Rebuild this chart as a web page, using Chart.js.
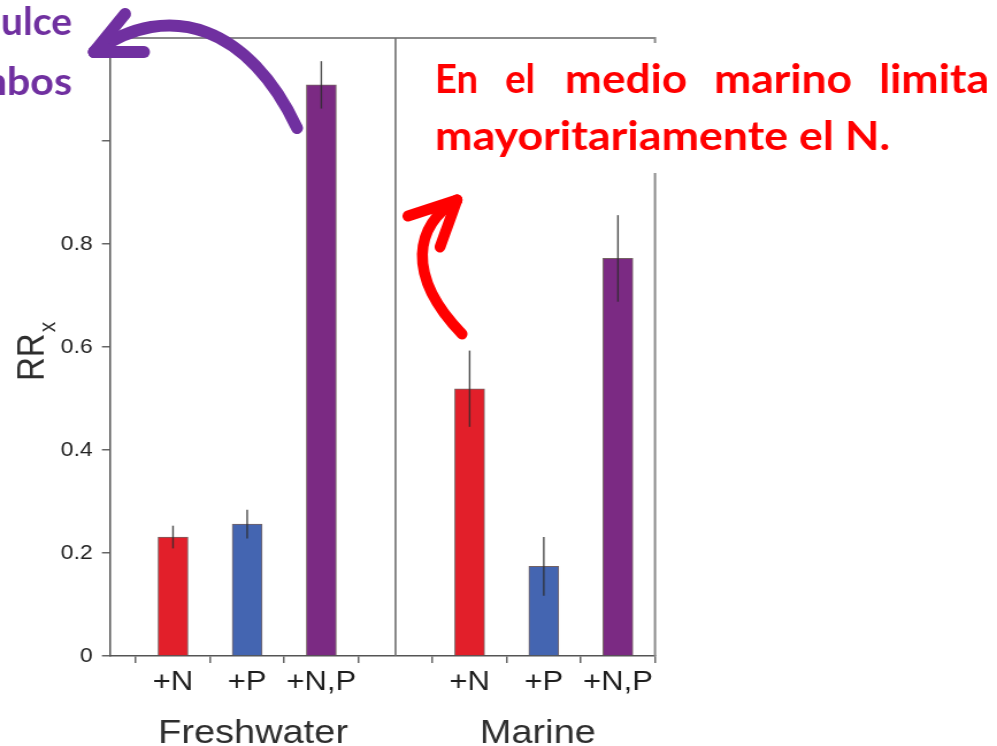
<!DOCTYPE html>
<html lang="es">
<head>
<meta charset="utf-8">
<title>RRx por nutriente: Freshwater y Marine</title>
<script src="https://cdn.jsdelivr.net/npm/chart.js@4.4.1/dist/chart.umd.min.js"></script>
<style>
  html, body { margin: 0; padding: 0; background: #fff; overflow: hidden; }
  #wrap { width: 867px; height: 746px; transform: scaleX(1.14994); transform-origin: 0 0; }
  canvas { display: block; }
</style>
</head>
<body>
<div id="wrap"><canvas id="chart" width="867" height="746"></canvas></div>
<script>
// ---- data ----
const treatments = ['+N', '+P', '+N,P'];
const systems = ['Freshwater', 'Marine'];
const freshwaterRR = [0.231, 0.256, 1.109];
const freshwaterErr = [0.022, 0.028, 0.046];
const marineRR = [0.519, 0.174, 0.772];
const marineErr = [0.074, 0.057, 0.084];
const yTickLabels = ['0', '0.2', '0.4', '0.6', '0.8'];
const treatmentColors = ['#e21f2a', '#4465b1', '#7b2a83'];

// horizontal stretch applied to the canvas wrapper
const SX = 997 / 867;

// each system occupies three slots, one empty slot between them
const slotsPerSystem = treatments.length + 1;
const barPoints = [];
[[freshwaterRR, freshwaterErr], [marineRR, marineErr]].forEach(([vals, errs], g) => {
  vals.forEach((v, i) => barPoints.push({ x: g * slotsPerSystem + i, y: v, e: errs[i], c: treatmentColors[i] }));
});
const lastSlot = slotsPerSystem * systems.length - 2;
const xTickValues = [];
for (let v = -0.5; v <= lastSlot + 0.5 + 1e-9; v += 0.5) xTickValues.push(v);

function slotLabel(v) {
  if (!Number.isInteger(v)) return '';
  const g = Math.floor(v / slotsPerSystem), i = v - g * slotsPerSystem;
  return i < treatments.length ? treatments[i] : '';
}

// error bars, frame, divider and axis titles
const decorations = {
  id: 'decorations',
  afterDatasetsDraw(chart) {
    const { ctx, scales: { x, y } } = chart;
    ctx.save();
    ctx.strokeStyle = 'rgba(45,45,45,0.85)';
    ctx.lineWidth = 1.4;
    barPoints.forEach(p => {
      const px = x.getPixelForValue(p.x);
      ctx.beginPath();
      ctx.moveTo(px, y.getPixelForValue(p.y + p.e));
      ctx.lineTo(px, y.getPixelForValue(p.y - p.e));
      ctx.stroke();
    });
    ctx.restore();
  },
  afterDraw(chart) {
    const { ctx, chartArea: a, scales: { x, y } } = chart;
    ctx.save();
    // top frame and right border
    ctx.strokeStyle = '#8a8a8a';
    ctx.lineWidth = 2;
    ctx.beginPath();
    ctx.moveTo(a.left, a.top);
    ctx.lineTo(a.right, a.top);
    ctx.lineTo(a.right, a.bottom);
    ctx.stroke();
    // divider between the two systems
    const dx = x.getPixelForValue(treatments.length);
    ctx.strokeStyle = '#6e6e6e';
    ctx.lineWidth = 1.6;
    ctx.beginPath();
    ctx.moveTo(dx, a.top);
    ctx.lineTo(dx, a.bottom);
    ctx.stroke();

    // system names under the treatment labels
    ctx.fillStyle = '#2e2e2e';
    ctx.font = '33px "Liberation Sans", Arial, sans-serif';
    ctx.textAlign = 'center';
    ctx.textBaseline = 'alphabetic';
    const nudge = [0.08, -0.08];
    systems.forEach((s, g) => {
      const cx = x.getPixelForValue(g * slotsPerSystem + (treatments.length - 1) / 2 + nudge[g]);
      ctx.fillText(s, cx, 743);
    });

    // y axis title RRx
    ctx.save();
    ctx.translate(37.6, 381);
    ctx.rotate(-Math.PI / 2);
    ctx.textAlign = 'left';
    ctx.font = '33px "Liberation Sans", Arial, sans-serif';
    ctx.fillText('RR', 0, 0);
    const w = ctx.measureText('RR').width;
    ctx.font = '21px "Liberation Sans", Arial, sans-serif';
    ctx.fillText('x', w + 1, 10);
    ctx.restore();
    ctx.restore();
  }
};

// callouts drawn in page pixels (undo the wrapper stretch)
function fitText(ctx, text, x0, x1, base) {
  const w = ctx.measureText(text).width;
  ctx.save();
  ctx.translate(x0, base);
  ctx.scale((x1 - x0) / w, 1);
  ctx.fillText(text, 0, 0);
  ctx.restore();
}
// right-aligned text whose last `tail` letters span [x0, x1]
function fitTail(ctx, text, tail, x0, x1, base) {
  const k = (x1 - x0) / ctx.measureText(tail).width;
  ctx.save();
  ctx.translate(x1, base);
  ctx.scale(k, 1);
  ctx.textAlign = 'right';
  ctx.fillText(text, 0, 0);
  ctx.restore();
}
function arrow(ctx, color, width, shaft, tip, barbs) {
  ctx.save();
  ctx.strokeStyle = color;
  ctx.lineWidth = width;
  ctx.lineCap = 'round';
  ctx.lineJoin = 'round';
  ctx.beginPath();
  ctx.moveTo(shaft[0], shaft[1]);
  ctx.bezierCurveTo(shaft[2], shaft[3], shaft[4], shaft[5], tip[0], tip[1]);
  ctx.stroke();
  barbs.forEach(b => {
    ctx.beginPath();
    ctx.moveTo(tip[0], tip[1]);
    ctx.lineTo(b[0], b[1]);
    ctx.stroke();
  });
  ctx.restore();
}
const callouts = {
  id: 'callouts',
  afterDraw(chart) {
    const ctx = chart.ctx;
    ctx.save();
    ctx.scale(1 / SX, 1);
    // note box over the marine panel
    ctx.fillStyle = '#fff';
    ctx.fillRect(400, 43, 597, 130);
    ctx.fillStyle = '#ff0000';
    ctx.font = 'bold 40px Lato, "Open Sans", sans-serif';
    ctx.textAlign = 'left';
    ctx.textBaseline = 'alphabetic';
    [['En', 435, 478], ['el', 505, 535], ['medio', 565, 687], ['marino', 714, 852], ['limita', 879, 989]]
      .forEach(([t, a, b]) => fitText(ctx, t, a, b, 93));
    fitText(ctx, 'mayoritariamente el N.', 435, 890, 150);

    arrow(ctx, '#ff0000', 11, [462, 334, 405, 275, 415, 225], [457, 200], [[408, 216], [440, 247]]);

    // freshwater note, running off the left edge
    ctx.fillStyle = '#7030a0';
    ctx.font = 'bold 39px Lato, "Open Sans", sans-serif';
    fitTail(ctx, 'dulce', 'ulce', 1, 72, 35);
    fitTail(ctx, 'ambos', 'bos', 7, 72, 95);
    arrow(ctx, '#7030a0', 12, [297, 128, 250, 28, 170, -2], [94, 52], [[125, 14], [144, 52]]);
    ctx.restore();
  }
};

const isHalfStep = v => Math.abs(v - Math.round(v)) > 0.25;

new Chart(document.getElementById('chart'), {
  type: 'bar',
  data: {
    datasets: [{
      data: barPoints.map(p => ({ x: p.x, y: p.y })),
      backgroundColor: barPoints.map(p => p.c),
      borderColor: 'rgba(70,45,45,0.75)',
      borderWidth: 1,
      barThickness: 26
    }]
  },
  options: {
    responsive: false,
    devicePixelRatio: 1,
    animation: false,
    layout: { padding: { top: 38, right: 297.4, left: 0, bottom: 0 } },
    plugins: { legend: { display: false }, tooltip: { enabled: false } },
    scales: {
      x: {
        type: 'linear',
        position: 'bottom',
        offset: false,
        min: -0.85,
        max: lastSlot + 0.5,
        afterBuildTicks(scale) { scale.ticks = xTickValues.map(v => ({ value: v })); },
        afterFit(scale) { scale.height = 90; },
        ticks: {
          autoSkip: false,
          maxRotation: 0,
          padding: 3,
          color: '#1e1e1e',
          font: { family: '"Liberation Sans", Arial, sans-serif', size: 27 },
          callback: v => slotLabel(v)
        },
        grid: {
          offset: false,
          drawOnChartArea: false,
          tickLength: 7,
          lineWidth: 1.5,
          tickColor: c => (c.tick && isHalfStep(c.tick.value) ? '#666' : 'rgba(0,0,0,0)')
        },
        border: { color: '#555', width: 1.5 }
      },
      y: {
        min: 0,
        max: 1.2,
        afterFit(scale) { scale.width = 95.65; },
        ticks: {
          stepSize: 0.2,
          padding: 8,
          color: '#222',
          font: { family: '"Liberation Sans", Arial, sans-serif', size: 20 },
          callback: (v, i) => (i < yTickLabels.length ? yTickLabels[i] : '')
        },
        grid: {
          drawOnChartArea: false,
          tickLength: 7,
          lineWidth: 1.5,
          tickColor: c => (c.tick && c.tick.value > 1.1 ? 'rgba(0,0,0,0)' : '#666')
        },
        border: { color: '#555', width: 1.5 }
      }
    }
  },
  plugins: [decorations, callouts]
});
</script>
</body>
</html>
